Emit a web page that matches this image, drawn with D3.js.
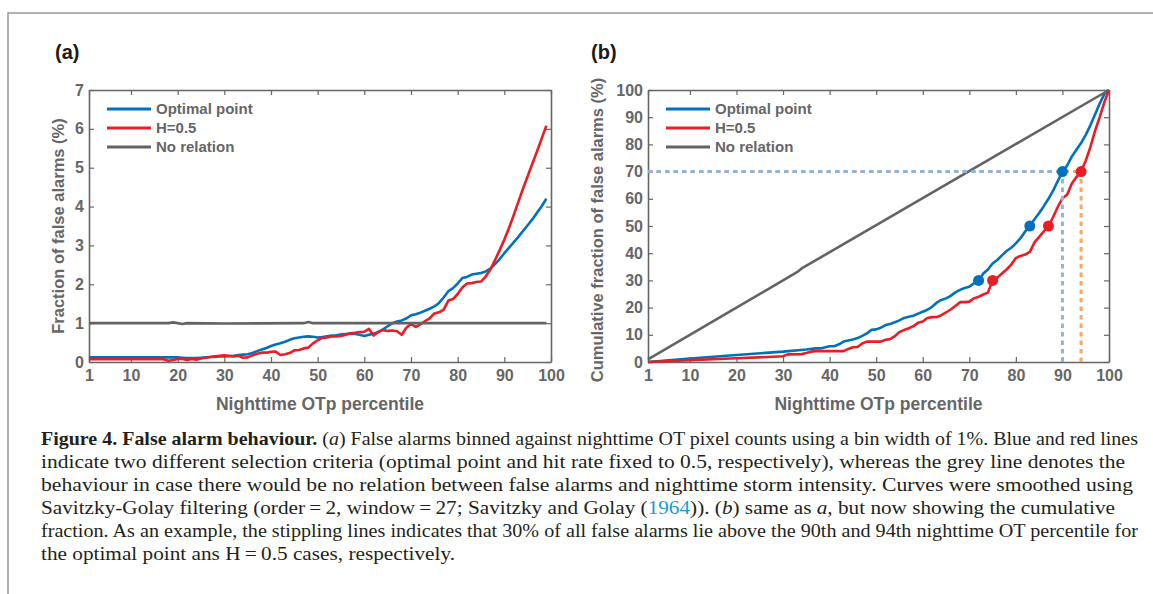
<!DOCTYPE html>
<html>
<head>
<meta charset="utf-8">
<script src="https://cdnjs.cloudflare.com/ajax/libs/d3/7.8.5/d3.min.js"></script>
<style>
  body { margin: 0; background: #fff; }
  svg { display: block; }
</style>
</head>
<body>
<svg width="1153" height="594"></svg>
<script>
// panel (a): fraction of false alarms per 1% bin
let percentile = d3.range(1, 100)
let fracOptimal = [
  0.12, 0.12, 0.12, 0.12, 0.12, 0.12, 0.12, 0.12, 0.12, 0.12,
  0.12, 0.12, 0.12, 0.12, 0.12, 0.12, 0.12, 0.12, 0.12, 0.12,
  0.11, 0.10, 0.10, 0.10, 0.11, 0.12, 0.13, 0.13, 0.14, 0.14,
  0.15, 0.16, 0.18, 0.19, 0.20, 0.23, 0.28, 0.32, 0.36, 0.41,
  0.45, 0.48, 0.52, 0.57, 0.61, 0.63, 0.65, 0.66, 0.65, 0.63,
  0.64, 0.66, 0.68, 0.69, 0.71, 0.72, 0.73, 0.72, 0.70, 0.67,
  0.70, 0.73, 0.77, 0.84, 0.92, 1.00, 1.04, 1.07, 1.12, 1.20,
  1.23, 1.27, 1.32, 1.37, 1.43, 1.52, 1.66, 1.82, 1.90, 2.02,
  2.16, 2.19, 2.25, 2.27, 2.29, 2.33, 2.40, 2.52, 2.65, 2.80,
  2.94, 3.08, 3.22, 3.37, 3.52, 3.67, 3.84, 4.01, 4.20
]
let fracHalf = [
  0.07, 0.07, 0.07, 0.07, 0.07, 0.07, 0.07, 0.07, 0.07, 0.07,
  0.07, 0.07, 0.07, 0.07, 0.07, 0.07, 0.07, 0.03, 0.05, 0.08,
  0.08, 0.05, 0.08, 0.06, 0.09, 0.11, 0.13, 0.15, 0.16, 0.17,
  0.16, 0.14, 0.16, 0.11, 0.12, 0.17, 0.21, 0.24, 0.24, 0.26,
  0.27, 0.18, 0.20, 0.23, 0.30, 0.31, 0.35, 0.37, 0.48, 0.56,
  0.62, 0.63, 0.66, 0.66, 0.67, 0.70, 0.74, 0.75, 0.77, 0.78,
  0.85, 0.68, 0.78, 0.82, 0.80, 0.81, 0.79, 0.70, 0.88, 0.98,
  0.90, 0.97, 1.05, 1.12, 1.25, 1.28, 1.35, 1.58, 1.62, 1.75,
  1.92, 2.02, 2.03, 2.06, 2.07, 2.20, 2.38, 2.62, 2.88, 3.15,
  3.45, 3.78, 4.12, 4.46, 4.78, 5.10, 5.42, 5.75, 6.08
]
let noRelX = [1, 18, 19, 20, 21, 22, 30, 47, 48, 49, 99]
let noRel = [1.0, 1.0, 1.02, 1.0, 0.98, 1.0, 0.99, 1.0, 1.03, 1.0, 1.0]

// panel (b): cumulative fraction
let cumOptimalX = [1, 10, 20, 30, 35, 37, 38, 40, 41, 42, 43, 45, 46, 47, 48, 49, 50,
  51, 52, 53, 54, 55, 56, 57, 58, 59, 60, 61, 62, 63, 64, 65, 66, 67, 68, 69, 70,
  71, 72, 73, 74, 75, 76, 77, 78, 79, 80, 81, 82, 83, 84, 85, 86, 87, 88, 89, 90,
  91, 92, 93, 94, 95, 96, 97, 98, 99, 100]
let cumOptimal = [0, 1.3, 2.6, 3.8, 4.6, 5.0, 5.0, 5.8, 5.8, 6.5, 7.5, 8.3, 8.8, 9.6, 10.5, 11.8, 12,
  12.6, 13.6, 14, 14.6, 15.3, 16.2, 16.6, 17, 17.8, 18.5, 19.2, 20.3, 21.8, 22.8, 23.4, 24.3, 25.6, 26.5, 27.2, 27.7,
  28.9, 30, 32.5, 34, 36.2, 37.5, 39.2, 40.8, 42, 43.6, 45.5, 48, 50, 52.5, 54.8, 57.3, 60, 63, 66.5, 70,
  72.2, 75.5, 78, 80.5, 83.5, 87, 91, 95, 98.5, 100]
let cumHalfX = [1, 10, 20, 29, 30, 31, 34, 35, 36, 37, 43, 44, 45, 46, 47, 48, 51,
  52, 53, 54, 55, 56, 57, 58, 59, 60, 61, 62, 63, 64, 65, 66, 67, 68, 69, 70,
  71, 72, 73, 74, 75, 76, 77, 78, 79, 80, 81, 82, 83, 84, 85, 86, 87, 88, 89, 90,
  91, 92, 93, 94, 95, 96, 97, 98, 99, 100]
let cumHalf = [0, 0.7, 1.4, 2.0, 2.1, 2.8, 2.9, 3.3, 3.8, 4.0, 4.0, 4.8, 5.4, 5.5, 6.8, 7.5, 7.5,
  8.2, 8.4, 9.5, 11, 11.8, 12.4, 13.2, 14.4, 14.9, 16.2, 16.5, 16.5, 17.2, 18.2, 19.3, 20.6, 22, 22, 22.2,
  23.4, 24, 24.8, 25.5, 30, 31, 32.5, 34, 35.8, 38.2, 39, 39.5, 40.5, 44, 46, 48, 50, 53.3, 57, 60.2,
  61.5, 65.5, 68, 70, 74, 79, 85, 90, 95.5, 100]
let cumNoRelX = [1, 33, 34, 100]
let cumNoRel = [1, 33, 34.4, 100]

let markOptimalX = [72, 83, 90]
let markHalfX = [75, 87, 94]
let markY = [30, 50, 70]

let xTicks = [1, 10, 20, 30, 40, 50, 60, 70, 80, 90, 100]
let fracTicks = [0, 1, 2, 3, 4, 5, 6, 7]
let cumTicks = [0, 10, 20, 30, 40, 50, 60, 70, 80, 90, 100]
let seriesNames = ["Optimal point", "H=0.5", "No relation"]

let blue = "#0072bd"
let red = "#ec1c24"
let grey = "#636363"
let axisGrey = "#666666"

let svg = d3.select("svg")
let sans = "'Liberation Sans', Arial, Helvetica, sans-serif"

svg.append("rect").attr("width", 1153).attr("height", 594).attr("fill", "#fff")

// frame of the figure box
svg.append("path")
    .attr("d", "M8,594 L8,13 L1153,13")
    .attr("fill", "none")
    .attr("stroke", "#999")
    .attr("stroke-width", 1.5)

let plotTop = 90, plotBottom = 362
let fmt = d3.format("d")

function drawPanel(p) {
    let x = d3.scaleLinear().domain([1, 100]).range([p.left, p.right])
    let y = d3.scaleLinear().domain([0, p.yMax]).range([plotBottom, plotTop])
    let g = svg.append("g")

    let axes = [
        { ax: d3.axisBottom(x).tickValues(xTicks).tickFormat(fmt).tickSizeInner(-5).tickSizeOuter(0).tickPadding(8), t: `translate(0,${plotBottom})` },
        { ax: d3.axisTop(x).tickValues(xTicks).tickSizeInner(-5).tickSizeOuter(0).tickFormat(""), t: `translate(0,${plotTop})` },
        { ax: d3.axisLeft(y).tickValues(p.yTicks).tickFormat(fmt).tickSizeInner(-5).tickSizeOuter(0).tickPadding(5), t: `translate(${p.left},0)` },
        { ax: d3.axisRight(y).tickValues(p.yTicks).tickSizeInner(-5).tickSizeOuter(0).tickFormat(""), t: `translate(${p.right},0)` }
    ]
    axes.forEach(a => {
        let ag = g.append("g")
            .attr("transform", a.t)
            .call(a.ax)
            .style("color", axisGrey)
            .style("font-family", sans)
            .style("font-weight", "bold")
            .style("font-size", "16px")
        ag.select(".domain").attr("stroke-width", 1.6)
        ag.selectAll(".tick line").attr("stroke-width", 1.2)
        ag.selectAll(".tick text").attr("fill", axisGrey)
    })

    let line = d3.line()
        .x(d => x(d[0]))
        .y(d => y(d[1]))

    p.series.forEach(s => {
        g.append("path")
            .datum(d3.zip(s.x, s.y))
            .attr("d", line)
            .attr("fill", "none")
            .attr("stroke", s.color)
            .attr("stroke-width", 2.6)
            .attr("stroke-linejoin", "round")
    })

    if (p.guides) {
        p.guides.forEach(gd => {
            g.append("path")
                .datum([[1, gd.y], [gd.x, gd.y]])
                .attr("d", line)
                .attr("stroke", gd.color)
                .attr("stroke-width", 3)
                .attr("stroke-dasharray", "4.5,4")
                .attr("fill", "none")
        })
        p.guides.forEach(gd => {
            g.append("path")
                .datum([[gd.x, 0], [gd.x, gd.y]])
                .attr("d", line)
                .attr("stroke", gd.color)
                .attr("stroke-width", 3)
                .attr("stroke-dasharray", "4.5,4")
                .attr("fill", "none")
        })
    }

    if (p.marks) {
        p.marks.forEach(m => {
            g.selectAll(null)
                .data(d3.zip(m.x, markY))
                .join("circle")
                .attr("cx", d => x(d[0]))
                .attr("cy", d => y(d[1]))
                .attr("r", 5.5)
                .attr("fill", m.color)
        })
    }

    // legend
    let lg = g.append("g")
    p.series.slice().sort((a, b) => a.order - b.order).forEach((s, i) => {
        let ly = 109 + i * 19
        lg.append("line")
            .attr("x1", p.left + 18).attr("x2", p.left + 62)
            .attr("y1", ly).attr("y2", ly)
            .attr("stroke", s.color)
            .attr("stroke-width", 3)
        lg.append("text")
            .attr("x", p.left + 67)
            .attr("y", ly)
            .attr("dy", "0.36em")
            .text(seriesNames[s.order])
            .attr("fill", axisGrey)
            .style("font-family", sans)
            .style("font-weight", "bold")
            .style("font-size", "15px")
    })

    // axis titles
    g.append("text")
        .attr("x", (p.left + p.right) / 2)
        .attr("y", 410)
        .attr("text-anchor", "middle")
        .text("Nighttime OTp percentile")
        .attr("fill", axisGrey)
        .style("font-family", sans)
        .style("font-weight", "bold")
        .style("font-size", "17.5px")

    g.append("text")
        .attr("transform", `translate(${p.yTitleX},${(plotTop + plotBottom) / 2 + p.yTitleShift}) rotate(-90)`)
        .attr("text-anchor", "middle")
        .attr("dy", "0.36em")
        .text(p.yTitle)
        .attr("fill", axisGrey)
        .style("font-family", sans)
        .style("font-weight", "bold")
        .style("font-size", "16.5px")

    g.append("text")
        .attr("x", p.labelX)
        .attr("y", 52)
        .attr("dy", "0.36em")
        .text(p.label)
        .attr("fill", "#1a1a1a")
        .style("font-family", sans)
        .style("font-weight", "bold")
        .style("font-size", "20px")
}

drawPanel({
    left: 89, right: 551, yMax: 7, yTicks: fracTicks,
    yTitle: "Fraction of false alarms (%)", yTitleX: 58, yTitleShift: 0,
    label: "(a)", labelX: 55,
    series: [
        { x: percentile, y: fracOptimal, color: blue, order: 0 },
        { x: percentile, y: fracHalf, color: red, order: 1 },
        { x: noRelX, y: noRel, color: grey, order: 2 }
    ]
})

drawPanel({
    left: 648, right: 1109, yMax: 100, yTicks: cumTicks,
    yTitle: "Cumulative fraction of false alarms (%)", yTitleX: 597, yTitleShift: 4,
    label: "(b)", labelX: 591,
    series: [
        { x: cumOptimalX, y: cumOptimal, color: blue, order: 0 },
        { x: cumHalfX, y: cumHalf, color: red, order: 1 },
        { x: cumNoRelX, y: cumNoRel, color: grey, order: 2 }
    ],
    guides: [
        { x: markHalfX[2], y: markY[2], color: "#f5a867" },
        { x: markOptimalX[2], y: markY[2], color: "#92b3da" }
    ],
    marks: [
        { x: markOptimalX, color: blue },
        { x: markHalfX, color: red }
    ]
})

// caption
let caption = [
    { w: 1097, parts: [["Figure 4.  False alarm behaviour.", "b"], [" (", ""], ["a", "i"], [") False alarms binned against nighttime OT pixel counts using a bin width of 1%. Blue and red lines", ""]] },
    { w: 1084, parts: [["indicate two different selection criteria (optimal point and hit rate fixed to 0.5, respectively), whereas the grey line denotes the", ""]] },
    { w: 1092, parts: [["behaviour in case there would be no relation between false alarms and nighttime storm intensity. Curves were smoothed using", ""]] },
    { w: 1074, parts: [["Savitzky-Golay filtering (order\u2009=\u20092, window\u2009=\u200927; Savitzky and Golay (", ""], ["1964", "c"], [")). (", ""], ["b", "i"], [") same as ", ""], ["a", "i"], [", but now showing the cumulative", ""]] },
    { w: 1097, parts: [["fraction. As an example, the stippling lines indicates that 30% of all false alarms lie above the 90th and 94th nighttime OT percentile for", ""]] },
    { w: 414, parts: [["the optimal point ans H\u2009=\u20090.5 cases, respectively.", ""]] }
]

caption.forEach((ln, i) => {
    let t = svg.append("text")
        .attr("x", 41)
        .attr("y", 445 + i * 23)
        .attr("fill", "#231f20")
        .style("font-family", "'Liberation Serif', 'Times New Roman', serif")
        .style("font-size", "19.5px")
    ln.parts.forEach(pt => {
        let s = t.append("tspan").text(pt[0])
        if (pt[1] == "b") s.style("font-weight", "bold")
        if (pt[1] == "i") s.style("font-style", "italic")
        if (pt[1] == "c") s.attr("fill", "#1a9bd7")
    })
    t.attr("textLength", ln.w).attr("lengthAdjust", "spacingAndGlyphs")
})
</script>
</body>
</html>
